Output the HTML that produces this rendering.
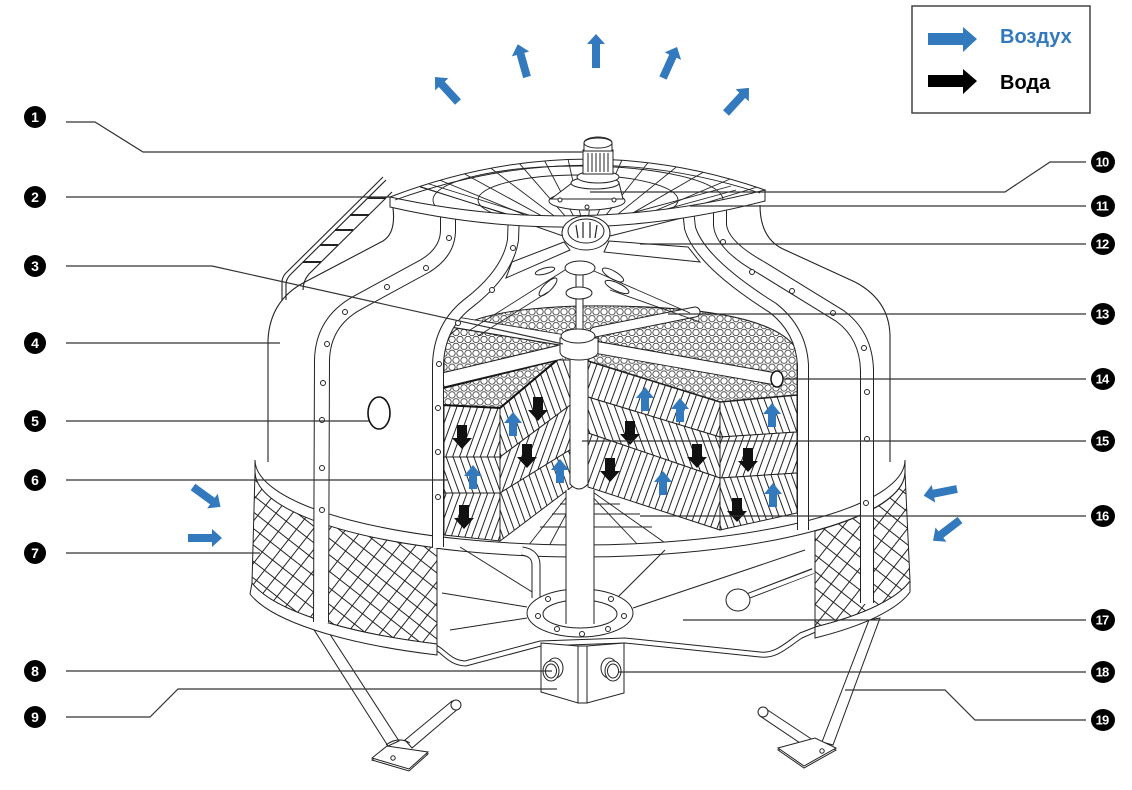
<!DOCTYPE html>
<html><head><meta charset="utf-8"><style>
html,body{margin:0;padding:0;background:#fff;}
svg{display:block;}
</style></head><body>
<svg width="1132" height="790" viewBox="0 0 1132 790" xmlns="http://www.w3.org/2000/svg" font-family="Liberation Sans, Arial, sans-serif">
<defs>
<pattern id="hex" width="8" height="13.856" patternUnits="userSpaceOnUse">
<rect width="8" height="13.856" fill="#fff"/>
<g fill="none" stroke="#222" stroke-width="0.75"><circle cx="0" cy="0" r="3.2"/><circle cx="8" cy="0" r="3.2"/><circle cx="4" cy="6.928" r="3.2"/><circle cx="0" cy="13.856" r="3.2"/><circle cx="8" cy="13.856" r="3.2"/></g>
</pattern>
<pattern id="hA" width="6.5" height="20" patternUnits="userSpaceOnUse" patternTransform="rotate(20)"><rect width="6.5" height="20" fill="#fff"/><line x1="3" y1="-1" x2="3" y2="21" stroke="#222" stroke-width="1"/></pattern>
<pattern id="hB" width="6.5" height="20" patternUnits="userSpaceOnUse" patternTransform="rotate(-20)"><rect width="6.5" height="20" fill="#fff"/><line x1="3" y1="-1" x2="3" y2="21" stroke="#222" stroke-width="1"/></pattern>
<pattern id="xh" width="13" height="13" patternUnits="userSpaceOnUse" patternTransform="rotate(38)"><rect width="13" height="13" fill="#fff"/><path d="M0.5,0 V13 M0,0.5 H13" stroke="#222" stroke-width="1"/></pattern>
<clipPath id="gc"><path d="M390,197 Q578,125 765,190 Q578,238 390,197 Z"/></clipPath>
</defs>

<!-- top air arrows -->
<g fill="#3279bd">
<polygon transform="translate(458,102) rotate(-42.6)" points="-4,0 4,0 4,-24 9,-24 0,-34 -9,-24 -4,-24"/>
<polygon transform="translate(527,77) rotate(-15.7)" points="-4,0 4,0 4,-24 9,-24 0,-34 -9,-24 -4,-24"/>
<polygon transform="translate(596,68)" points="-4,0 4,0 4,-24 9,-24 0,-34 -9,-24 -4,-24"/>
<polygon transform="translate(663,78) rotate(24.3)" points="-4,0 4,0 4,-24 9,-24 0,-34 -9,-24 -4,-24"/>
<polygon transform="translate(726,113) rotate(42.5)" points="-4,0 4,0 4,-24 9,-24 0,-34 -9,-24 -4,-24"/>
<polygon transform="translate(193,487) rotate(125.9)" points="-4,0 4,0 4,-24 9,-24 0,-34 -9,-24 -4,-24"/>
<polygon transform="translate(188,538) rotate(90)" points="-4,0 4,0 4,-24 9,-24 0,-34 -9,-24 -4,-24"/>
<polygon transform="translate(957,489) rotate(-101.3)" points="-4,0 4,0 4,-24 9,-24 0,-34 -9,-24 -4,-24"/>
<polygon transform="translate(960,520) rotate(-127.5)" points="-4,0 4,0 4,-24 9,-24 0,-34 -9,-24 -4,-24"/>
</g>

<!-- casing -->
<path d="M393,205 L762,203 Q760,238 783,249 L855,282 Q889,300 890,335 L890,470 L268,470 L268,340 Q270,300 305,282 L383,241 Q396,233 393,205 Z" fill="#fff"/>
<g fill="none" stroke="#222" stroke-width="1.1">
<path d="M393,208 Q396,233 383,241 L305,282 Q270,300 268,340 L268,462"/>
<path d="M760,205 Q760,238 783,249 L855,282 Q889,300 890,335 L890,462"/>
<path d="M286,300 L286,284 Q286,279 291,274 L386,180"/>
<path d="M282,300 L282,282 Q282,276 288,271 L383,177"/>
<path d="M303,290 Q303,281 309,274 L392,192"/>
</g>
<g stroke="#222" stroke-width="2">
<line x1="303" y1="262" x2="321" y2="262"/><line x1="320" y1="245" x2="338" y2="245"/><line x1="335" y1="230" x2="353" y2="230"/><line x1="350" y1="215" x2="369" y2="215"/><line x1="368" y1="198" x2="386" y2="198"/>
</g>

<!-- fill interior -->
<path d="M444,548 L444,345 C452,322 490,309 578,306 C670,305 775,312 797,350 L797,530 Z" fill="#fff"/>
<path d="M444,420 L444,345 C452,322 490,309 578,306 C670,305 775,312 797,350 L797,420 Z" fill="url(#hex)" stroke="#222"/>
<g stroke="#222" stroke-width="1">
<polygon points="444,405 500,408 500,457 444,457" fill="url(#hA)"/>
<polygon points="444,457 500,457 500,493 444,493" fill="url(#hB)"/>
<polygon points="444,493 500,493 500,541 444,535" fill="url(#hA)"/>
<polygon points="500,408 558,360 573,360 573,403 500,457" fill="url(#hB)"/>
<polygon points="500,457 573,403 573,448 500,493" fill="url(#hA)"/>
<polygon points="500,493 573,448 573,486 500,541" fill="url(#hB)"/>
<polygon points="588,361 720,402 720,437 588,397" fill="url(#hA)"/>
<polygon points="588,397 720,437 720,478 588,433" fill="url(#hB)"/>
<polygon points="588,433 720,478 720,530 588,487" fill="url(#hA)"/>
<polygon points="720,402 797,395 797,432 720,437" fill="url(#hB)"/>
<polygon points="720,437 797,432 797,473 720,478" fill="url(#hA)"/>
<polygon points="720,478 797,473 797,513 720,530" fill="url(#hB)"/>
</g>
<path d="M588,361 L720,402 L797,395" fill="none" stroke="#222" stroke-width="1.6"/>
<polygon points="443,388 557,360 500,408 443,405" fill="url(#hex)" stroke="#111" stroke-width="2"/>
<g stroke="#222" fill="none" stroke-width="0.9">
<path d="M572,490 L528,546"/><path d="M579,490 L548,548"/><path d="M586,490 L640,547"/><path d="M590,490 L668,545"/>
<path d="M540,527 L652,527"/><path d="M552,514 L640,514"/><path d="M560,504 L620,504"/>
</g>
<path d="M570,345 L570,484 Q579,494 588,484 L588,345" fill="#fff" stroke="#222"/>
<!-- sprinkler arms -->
<g fill="none">
<path d="M562,340 L453,322" stroke="#222" stroke-width="12"/><path d="M563,340 L454,322" stroke="#fff" stroke-width="10"/>
<path d="M560,352 L443,380" stroke="#222" stroke-width="15"/><path d="M561,352 L443,380" stroke="#fff" stroke-width="13"/>
<path d="M595,347 L776,379" stroke="#222" stroke-width="13"/><path d="M594,347 L776,379" stroke="#fff" stroke-width="11"/>
<path d="M595,332 L695,312" stroke="#222" stroke-width="11" stroke-linecap="round"/><path d="M595,332 L695,312" stroke="#fff" stroke-width="9" stroke-linecap="round"/>
</g>
<ellipse cx="777" cy="379" rx="6" ry="8" fill="#fff" stroke="#111" stroke-width="1.5"/>
<!-- distribution shaft -->
<g stroke="#222" fill="#fff">
<rect x="576" y="272" width="7" height="62"/>
<ellipse cx="580" cy="268" rx="15" ry="7"/>
<ellipse cx="579" cy="293" rx="13" ry="6"/>
<path d="M560,338 L560,352 A19,8 0 0 0 598,352 L598,338 Z"/>
<ellipse cx="578" cy="336" rx="17" ry="7"/>
<ellipse cx="545" cy="271" rx="10" ry="3" transform="rotate(-15 545 271)"/>
<ellipse cx="548" cy="287" rx="12" ry="4" transform="rotate(-45 548 287)"/>
<ellipse cx="613" cy="275" rx="12" ry="4" transform="rotate(30 613 275)"/>
<ellipse cx="617" cy="287" rx="13" ry="4" transform="rotate(25 617 287)"/>
</g>
<g stroke="#222" stroke-width="0.9" fill="none">
<path d="M565,270 L470,330"/><path d="M594,271 L690,313"/><path d="M548,292 L478,336"/><path d="M610,290 L700,322"/>
</g>
<!-- fill arrows -->
<g fill="#111">
<polygon transform="translate(462,437)" points="-5,-12 5,-12 5,1 10,1 0,12 -10,1 -5,1"/>
<polygon transform="translate(538,409)" points="-5,-12 5,-12 5,1 10,1 0,12 -10,1 -5,1"/>
<polygon transform="translate(527,456)" points="-5,-12 5,-12 5,1 10,1 0,12 -10,1 -5,1"/>
<polygon transform="translate(610,470)" points="-5,-12 5,-12 5,1 10,1 0,12 -10,1 -5,1"/>
<polygon transform="translate(630,433)" points="-5,-12 5,-12 5,1 10,1 0,12 -10,1 -5,1"/>
<polygon transform="translate(697,456)" points="-5,-12 5,-12 5,1 10,1 0,12 -10,1 -5,1"/>
<polygon transform="translate(748,460)" points="-5,-12 5,-12 5,1 10,1 0,12 -10,1 -5,1"/>
<polygon transform="translate(464,517)" points="-5,-12 5,-12 5,1 10,1 0,12 -10,1 -5,1"/>
<polygon transform="translate(737,510)" points="-5,-12 5,-12 5,1 10,1 0,12 -10,1 -5,1"/>
</g>
<g fill="#3279bd">
<polygon transform="translate(513,424)" points="-4,12 4,12 4,-1 9,-1 0,-12 -9,-1 -4,-1"/>
<polygon transform="translate(473,477)" points="-4,12 4,12 4,-1 9,-1 0,-12 -9,-1 -4,-1"/>
<polygon transform="translate(560,471)" points="-4,12 4,12 4,-1 9,-1 0,-12 -9,-1 -4,-1"/>
<polygon transform="translate(645,399)" points="-4,12 4,12 4,-1 9,-1 0,-12 -9,-1 -4,-1"/>
<polygon transform="translate(680,410)" points="-4,12 4,12 4,-1 9,-1 0,-12 -9,-1 -4,-1"/>
<polygon transform="translate(772,415)" points="-4,12 4,12 4,-1 9,-1 0,-12 -9,-1 -4,-1"/>
<polygon transform="translate(663,483)" points="-4,12 4,12 4,-1 9,-1 0,-12 -9,-1 -4,-1"/>
<polygon transform="translate(773,495)" points="-4,12 4,12 4,-1 9,-1 0,-12 -9,-1 -4,-1"/>
</g>

<!-- rim band -->
<path d="M255,460 A325,85 0 0 0 905,460 L905,472 A325,85 0 0 1 255,472 Z" fill="#fff" stroke="#222"/>
<!-- louvers -->
<path d="M255,472 A325,85 0 0 0 437,548 L437,644 A335,86 0 0 1 252,583 Z" fill="url(#xh)" stroke="#222"/>
<path d="M815,531 A325,85 0 0 0 905,472 L910,581 A335,86 0 0 1 815,627 Z" fill="url(#xh)" stroke="#222"/>

<!-- basin content -->
<g stroke="#222" fill="none" stroke-width="1">
<path d="M460,547 L537,595"/><path d="M442,593 L527,607"/><path d="M450,630 L527,618"/>
<path d="M665,550 L618,597"/><path d="M633,608 L805,550"/>
</g>
<path d="M522,551 Q536,553 536,565 L536,598" fill="none" stroke="#222" stroke-width="9"/>
<path d="M522,551 Q536,553 536,565 L536,599" fill="none" stroke="#fff" stroke-width="7"/>
<path d="M748,596 L813,571" stroke="#222" stroke-width="6"/><path d="M748,596 L814,571" stroke="#fff" stroke-width="4"/>
<ellipse cx="738" cy="600" rx="12" ry="11" fill="#fff" stroke="#222"/>
<ellipse cx="580" cy="613" rx="53" ry="24" fill="#fff" stroke="#222"/>
<ellipse cx="580" cy="614" rx="37" ry="14" fill="#fff" stroke="#222"/>
<rect x="566" y="490" width="28" height="134" fill="#fff"/>
<path d="M566,490 L566,624 M594,490 L594,624" stroke="#222" fill="none"/>
<g fill="#fff" stroke="#222"><circle cx="548" cy="599" r="2.5"/><circle cx="611" cy="599" r="2.5"/><circle cx="538" cy="616" r="2.5"/><circle cx="624" cy="616" r="2.5"/><circle cx="557" cy="629" r="2.5"/><circle cx="582" cy="634" r="2.5"/><circle cx="608" cy="629" r="2.5"/></g>
<!-- basin bottom -->
<g fill="none" stroke="#222">
<path d="M430,643 C445,646 448,660 465,661 L540,641 L625,638 L760,652 C775,654 785,643 800,633 L818,626"/>
<path d="M430,648 C443,651 446,665 466,666 L541,646 L625,643 L760,657 C777,659 787,648 802,638 L818,631"/>
</g>

<!-- legs -->
<g fill="#fff" stroke="#222">
<polygon points="311,625 322,622 399,741 388,746"/>
<polygon points="405,740 452,701 459,708 412,748"/>
<circle cx="456" cy="705" r="5"/>
<polygon points="372,760 387,748 428,754 409,771"/>
<polygon points="372,758 387,746 428,752 409,769"/>
<circle cx="393" cy="758" r="2.2"/>
<path d="M386,745 Q398,736 410,743" fill="none"/>
<polygon points="869,620 880,618 833,745 822,742"/>
<polygon points="816,742 766,709 760,716 809,749"/>
<circle cx="763" cy="712" r="5"/>
<polygon points="778,750 815,740 836,750 804,768"/>
<polygon points="778,748 815,738 836,748 804,766"/>
<circle cx="822" cy="751" r="2.2"/>
</g>
<!-- bottom bands -->
<path d="M252,583 A335,86 0 0 0 437,644 L437,655 A335,86 0 0 1 250,594 Z" fill="#fff" stroke="#222"/>
<path d="M815,627 A335,86 0 0 0 910,581 L910,592 A335,86 0 0 1 815,638 Z" fill="#fff" stroke="#222"/>
<!-- outlet box -->
<g fill="#fff" stroke="#222">
<polygon points="541,643 578,646 578,703 541,692"/>
<polygon points="578,646 587,646 587,703 578,703"/>
<polygon points="587,646 624,643 624,693 587,703"/>
<ellipse cx="555" cy="668" rx="8" ry="10"/>
<ellipse cx="551" cy="671" rx="8" ry="10"/>
<ellipse cx="551" cy="671" rx="5.5" ry="7"/>
<ellipse cx="609" cy="668" rx="8" ry="10"/>
<ellipse cx="613" cy="671" rx="8" ry="10"/>
<ellipse cx="613" cy="671" rx="5.5" ry="7"/>
</g>

<!-- columns -->
<g fill="none">
<path d="M321,622 L322,360 Q323,322 357,303 L425,266 Q448,252 448,230 L448,212" stroke="#222" stroke-width="16"/>
<path d="M321,623 L322,360 Q323,322 357,303 L425,266 Q448,252 448,230 L448,211" stroke="#fff" stroke-width="14"/>
<path d="M438,547 L438,365 Q439,325 470,302 Q508,272 513,240 L514,212" stroke="#222" stroke-width="12"/>
<path d="M438,548 L438,365 Q439,325 470,302 Q508,272 513,240 L514,211" stroke="#fff" stroke-width="10"/>
<path d="M803,530 L803,365 Q801,330 773,308 Q700,262 690,228 L688,210" stroke="#222" stroke-width="12"/>
<path d="M803,531 L803,365 Q801,330 773,308 Q700,262 690,228 L688,209" stroke="#fff" stroke-width="10"/>
<path d="M867,603 L867,370 Q866,335 840,316 L762,268 Q722,246 720,225 L720,210" stroke="#222" stroke-width="14"/>
<path d="M867,604 L867,370 Q866,335 840,316 L762,268 Q722,246 720,225 L720,209" stroke="#fff" stroke-width="12"/>
</g>
<g fill="#fff" stroke="#222">
<circle cx="449" cy="238" r="2.5"/><circle cx="426" cy="268" r="2.5"/><circle cx="387" cy="287" r="2.5"/><circle cx="345" cy="312" r="2.5"/><circle cx="327" cy="344" r="2.5"/><circle cx="323" cy="383" r="2.5"/><circle cx="322" cy="420" r="2.5"/><circle cx="322" cy="468" r="2.5"/><circle cx="322" cy="510" r="2.5"/>
<circle cx="513" cy="248" r="2.5"/><circle cx="492" cy="290" r="2.5"/><circle cx="458" cy="323" r="2.5"/><circle cx="439" cy="364" r="2.5"/><circle cx="438" cy="408" r="2.5"/><circle cx="438" cy="452" r="2.5"/><circle cx="438" cy="497" r="2.5"/>
<circle cx="723" cy="242" r="2.5"/><circle cx="752" cy="272" r="2.5"/><circle cx="792" cy="291" r="2.5"/><circle cx="833" cy="313" r="2.5"/><circle cx="864" cy="348" r="2.5"/><circle cx="867" cy="392" r="2.5"/><circle cx="867" cy="439" r="2.5"/><circle cx="866" cy="503" r="2.5"/>
</g>
<ellipse cx="379" cy="413" rx="11" ry="16" fill="#fff" stroke="#111" stroke-width="1.6"/>

<!-- fan blades -->
<g fill="#fff" stroke="#222">
<polygon points="566,224 520,210 506,216 563,236"/>
<polygon points="564,242 512,262 506,278 570,250"/>
<polygon points="607,224 676,209 690,216 610,236"/>
<polygon points="609,241 688,247 700,262 604,252"/>
</g>
<!-- fan guard -->
<path d="M390,197 L390,207 Q578,250 765,201 L765,190 Z" fill="#fff" stroke="#222"/>
<path d="M390,197 Q578,125 765,190 Q578,238 390,197 Z" fill="#fff" stroke="#222"/>
<g clip-path="url(#gc)" stroke="#222" stroke-width="0.9" fill="none">
<path d="M586,240 L400,180 M586,240 L420,172 M586,240 L450,166 M586,240 L480,160 M586,240 L512,155 M586,240 L540,152 M586,240 L566,150 M586,240 L596,150 M586,240 L626,151 M586,240 L655,154 M586,240 L685,160 M586,240 L714,166 M586,240 L742,174 M586,240 L770,183"/>
<ellipse cx="578" cy="200" rx="145" ry="34"/>
<ellipse cx="578" cy="200" rx="100" ry="25"/>
<path d="M420,187 L523,219 M426,183 L529,215"/>
<path d="M736,190 L634,218 M731,186 L628,214"/>
</g>
<path d="M395,200 Q578,134 760,193" fill="none" stroke="#222" stroke-width="0.9"/>
<!-- hub ring -->
<ellipse cx="586" cy="233" rx="24" ry="17" fill="#fff" stroke="#222"/>
<ellipse cx="586" cy="231" rx="18" ry="12" fill="#fff" stroke="#222"/>
<g stroke="#222" stroke-width="1.2"><line x1="576" y1="225" x2="578" y2="238"/><line x1="583" y1="222" x2="583" y2="238"/><line x1="590" y1="222" x2="590" y2="238"/><line x1="597" y1="225" x2="595" y2="238"/></g>
<!-- motor -->
<g fill="#fff" stroke="#222">
<ellipse cx="587" cy="201" rx="38" ry="9"/>
<path d="M572,183 L551,199 L623,199 L619,183 Z"/>
<ellipse cx="595" cy="183" rx="24" ry="6"/>
<ellipse cx="598" cy="177" rx="21" ry="6"/>
<rect x="583" y="150" width="30" height="24"/>
<path d="M584,151 L584,143 A14,6 0 0 1 612,143 L612,151 Z"/>
<ellipse cx="598" cy="143" rx="14" ry="5"/>
</g>
<g stroke="#222" stroke-width="1"><line x1="588" y1="153" x2="588" y2="172"/><line x1="592" y1="153" x2="592" y2="172"/><line x1="596" y1="153" x2="596" y2="172"/><line x1="600" y1="153" x2="600" y2="172"/><line x1="604" y1="153" x2="604" y2="172"/><line x1="608" y1="153" x2="608" y2="172"/></g>
<g fill="#fff" stroke="#222"><circle cx="560" cy="200" r="2"/><circle cx="614" cy="200" r="2"/><circle cx="587" cy="207" r="2"/></g>

<!-- leader lines -->
<g stroke="#333" stroke-width="1.2" fill="none">
<path d="M66,122 H95 L143,152 H583"/>
<path d="M66,197 H390"/>
<path d="M66,266 H212 L563,344"/>
<path d="M66,343 H280"/>
<path d="M66,421 H369"/>
<path d="M66,480 H447"/>
<path d="M66,553 H260"/>
<path d="M66,671 H552"/>
<path d="M66,717 H150 L178,689 H557"/>
<path d="M1086,162 H1050 L1005,192 H590"/>
<path d="M1086,206 H690"/>
<path d="M1086,244 H640"/>
<path d="M1086,314 H668"/>
<path d="M1086,379 H783"/>
<path d="M1086,441 H582"/>
<path d="M1086,516 H640"/>
<path d="M1086,620 H683"/>
<path d="M1086,672 H618"/>
<path d="M1086,720 H975 L945,690 H845"/>
</g>

<!-- number circles -->
<g fill="#000">
<circle cx="35" cy="117" r="11"/><circle cx="35" cy="197" r="11"/><circle cx="35" cy="266" r="11"/><circle cx="35" cy="343" r="11"/><circle cx="35" cy="421" r="11"/><circle cx="35" cy="480" r="11"/><circle cx="35" cy="553" r="11"/><circle cx="35" cy="671" r="11"/><circle cx="35" cy="717" r="11"/>
<ellipse cx="1103" cy="162" rx="12" ry="11"/><ellipse cx="1103" cy="206" rx="12" ry="11"/><ellipse cx="1103" cy="244" rx="12" ry="11"/><ellipse cx="1103" cy="314" rx="12" ry="11"/><ellipse cx="1103" cy="379" rx="12" ry="11"/><ellipse cx="1103" cy="441" rx="12" ry="11"/><ellipse cx="1103" cy="516" rx="12" ry="11"/><ellipse cx="1103" cy="620" rx="12" ry="11"/><ellipse cx="1103" cy="672" rx="12" ry="11"/><ellipse cx="1103" cy="720" rx="12" ry="11"/>
</g>
<g fill="#fff" font-weight="bold" font-size="14" text-anchor="middle">
<text x="35" y="122">1</text><text x="35" y="202">2</text><text x="35" y="271">3</text><text x="35" y="348">4</text><text x="35" y="426">5</text><text x="35" y="485">6</text><text x="35" y="558">7</text><text x="35" y="676">8</text><text x="35" y="722">9</text>
</g>
<g fill="#fff" font-weight="bold" font-size="13" text-anchor="middle" letter-spacing="-0.8">
<text x="1102" y="166.5">10</text><text x="1102" y="210.5">11</text><text x="1102" y="248.5">12</text><text x="1102" y="318.5">13</text><text x="1102" y="383.5">14</text><text x="1102" y="445.5">15</text><text x="1102" y="520.5">16</text><text x="1102" y="624.5">17</text><text x="1102" y="676.5">18</text><text x="1102" y="724.5">19</text>
</g>

<!-- legend -->
<rect x="912" y="6" width="178" height="107" fill="#fff" stroke="#444" stroke-width="1.5"/>
<polygon points="928,33 963,33 963,27 977,39 963,52 963,45 928,45" fill="#3279bd"/>
<polygon points="928,75 963,75 963,69 977,81 963,94 963,87 928,87" fill="#000"/>
<text x="1000" y="43" font-size="20" font-weight="bold" fill="#3279bd">Воздух</text>
<text x="1000" y="89" font-size="20" font-weight="bold" fill="#000">Вода</text>
</svg>
</body></html>
